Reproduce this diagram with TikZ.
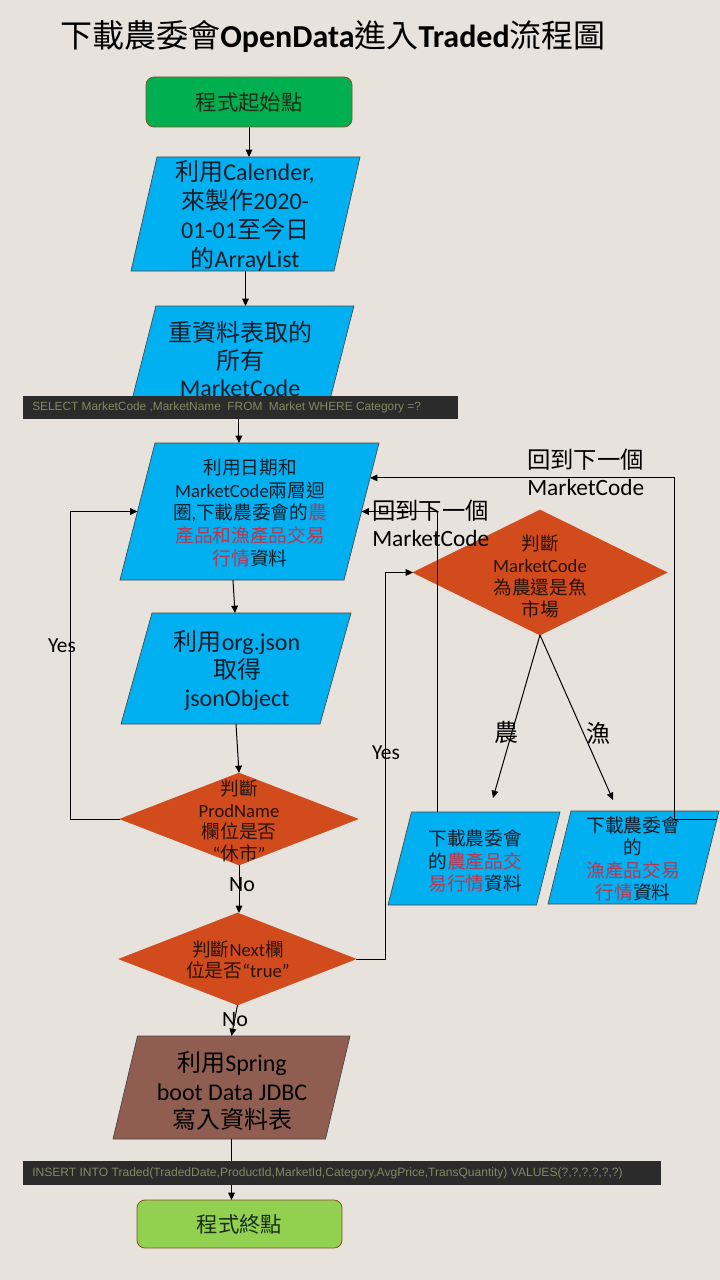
\documentclass[tikz,border=0pt]{standalone}
\usepackage{fontspec}
\setmainfont{Carlito}
\newfontfamily\zhf{Noto Sans CJK TC}
\newfontfamily\sqlf{Liberation Sans}
\usetikzlibrary{shapes.geometric,arrows.meta,calc}
\definecolor{bg}{RGB}{231,227,220}
\definecolor{gstart}{RGB}{0,176,80}
\definecolor{gend}{RGB}{146,208,80}
\definecolor{pblue}{RGB}{0,176,240}
\definecolor{dorange}{RGB}{209,75,29}
\definecolor{pbrown}{RGB}{143,94,80}
\definecolor{redtxt}{RGB}{185,55,80}
\definecolor{barc}{RGB}{43,43,43}
\definecolor{sqltxt}{RGB}{128,138,100}
\definecolor{edgec}{RGB}{70,70,70}
\definecolor{rbord}{RGB}{140,80,40}
\definecolor{stxt}{RGB}{25,45,25}
\definecolor{btxt}{RGB}{20,28,40}
\definecolor{dtxt}{RGB}{40,18,8}
\newcommand\zh[1]{{\zhf #1}}
\newcommand\rd[1]{\textcolor{redtxt}{#1}}
\tikzset{
  sz/.style 2 args={minimum width=#1*0.75pt, minimum height=#2*0.75pt},
  box/.style={rectangle, inner sep=0pt, outer sep=0pt},
  parafill/.style={draw=edgec, line width=0.5pt},
  dec/.style={diamond, inner sep=0pt, outer sep=0pt, fill=dorange, draw=dorange},
  term/.style={rectangle, rounded corners=6pt, draw=rbord, line width=0.6pt,
    inner sep=0pt, outer sep=0pt},
  sqlbar/.style={rectangle, fill=barc, inner sep=0pt, outer sep=0pt},
  txt/.style={align=center, inner sep=0pt},
  lbl/.style={inner sep=0pt, text=black},
  arr/.style={-{Triangle[length=5.5pt,width=5pt]}, line width=0.75pt, black},
}
% #1 name, #2 x, #3 y (centre), #4 width, #5 height, #6 slant offset, #7 fill
\newcommand\parallelo[7]{%
  \node[box, sz={#4}{#5}] (#1) at (#2,#3) {};
  \filldraw[parafill, fill=#7] (#1.south west) -- ([xshift=#6*0.75pt]#1.north west)
    -- (#1.north east) -- ([xshift=-#6*0.75pt]#1.south east) -- cycle;
  \coordinate (#1-l) at ($(#1.south west)!0.5!([xshift=#6*0.75pt]#1.north west)$);
  \coordinate (#1-r) at ($(#1.north east)!0.5!([xshift=-#6*0.75pt]#1.south east)$);
}
\begin{document}
\begin{tikzpicture}[x=0.75pt,y=-0.75pt]
\fill[bg] (0,0) rectangle (720,1280);
\useasboundingbox (0,0) rectangle (720,1280);

% title
\node[anchor=west, inner sep=0pt] (title) at (60,37)
  {\fontsize{24}{28}\selectfont\zh{下載農委會}\textbf{OpenData}\zh{進入}\textbf{Traded}\zh{流程圖}};

% shapes
\node[term, fill=gstart, sz={206}{50}] (start) at (249,102) {};
\parallelo{p1}{245.5}{214}{229}{114}{26}{pblue}
\parallelo{p2}{242.4}{355}{223}{98}{25}{pblue}
\parallelo{p3}{249.5}{511.5}{259}{137}{35}{pblue}
\parallelo{p4}{236}{668.5}{230}{111}{31}{pblue}
\node[dec, sz={238}{92}] (d1) at (239,819) {};
\node[dec, sz={237}{92}] (d2) at (237.5,959) {};
\node[dec, sz={254}{125}] (d3) at (540,572.5) {};
\parallelo{pL}{474}{858.5}{172}{93}{23.5}{pblue}
\parallelo{pR}{633.5}{857.5}{171}{93}{23}{pblue}
\parallelo{p5}{231.5}{1087.5}{237}{103}{24.5}{pbrown}
\node[term, fill=gend, sz={205}{48}] (stop) at (239.5,1224) {};

% texts in shapes
\node[txt, text=stxt, font=\fontsize{16}{19}\selectfont] (startt) at (249,102) {\zh{程式起始點}};
\node[txt, text=btxt, font=\fontsize{18}{21.75}\selectfont] (p1t) at (245,216)
  {\zh{利用}Calender,\\\zh{來製作}2020-\\01-01\zh{至今日}\\\zh{的}ArrayList};
\node[txt, text=btxt, font=\fontsize{18}{20.6}\selectfont] (p2t) at (240,359)
  {\zh{重資料表取的}\\\zh{所有}\\MarketCode};
\node[txt, text=btxt, font=\fontsize{14}{16.9}\selectfont] (p3t) at (250,513)
  {\zh{利用日期和}\\MarketCode\zh{兩層迴}\\\zh{圈},\zh{下載農委會的}\rd{\zh{農}}\\\rd{\zh{產品和漁產品交易}}\\\rd{\zh{行情}}\zh{資料}};
\node[txt, text=btxt, font=\fontsize{18}{21}\selectfont] (p4t) at (237,671)
  {\zh{利用}org.json\\\zh{取得}\\jsonObject};
\node[txt, text=dtxt, font=\fontsize{14}{16.2}\selectfont] (d1t) at (239,821)
  {\zh{判斷}\\ProdName\\\zh{欄位是否}\\“\zh{休市}”};
\node[txt, text=dtxt, font=\fontsize{14}{15.75}\selectfont] (d2t) at (238,960)
  {\zh{判斷}Next\zh{欄}\\\zh{位是否}“true”};
\node[txt, text=dtxt, font=\fontsize{14}{16.5}\selectfont] (d3t) at (540,576)
  {\zh{判斷}\\MarketCode\\\zh{為農還是魚}\\\zh{市場}};
\node[txt, text=btxt, font=\fontsize{14}{16.9}\selectfont] (pLt) at (475,861)
  {\zh{下載農委會}\\\zh{的}\rd{\zh{農產品交}}\\\rd{\zh{易行情}}\zh{資料}};
\node[txt, text=btxt, font=\fontsize{14}{16.9}\selectfont] (pRt) at (633,859)
  {\zh{下載農委會}\\\zh{的}\\\rd{\zh{漁產品交易}}\\\rd{\zh{行情}}\zh{資料}};
\node[txt, text=black, font=\fontsize{18}{21.4}\selectfont] (p5t) at (232,1091)
  {\zh{利用}Spring\\boot Data JDBC\\\zh{寫入資料表}};
\node[txt, text=stxt, font=\fontsize{16}{19}\selectfont] (stopt) at (239.5,1224) {\zh{程式終點}};

% connectors
\draw[arr] (start.south) -- (start.south |- p1.north);
\draw[arr] (p1.south) -- (p1.south |- p2.north);
\draw[arr] ([xshift=-2.6pt]p2.south) -- ([xshift=-2.6pt]p2.south |- p3.north);
\draw[arr] ([xshift=-12.4pt]p3.south) -- ([xshift=-0.75pt]p4.north);
\draw[arr] (p4.south) -- (d1.north);
\draw[arr] (d1.south) -- (d1.south |- d2.north);
\draw[arr] (d2.south) -- (p5.north);
\draw[arr] (p5.south) -- (p5.south |- stop.north);

\draw[arr] (d1.west) -- ++(-50,0) |- (p3-l);
\draw[arr] (d2.east) -- ++(29,0) |- (d3.west);

\coordinate (aL) at (493,798);
\coordinate (aR) at (613,800);
\draw[arr] (d3.south) -- (aL);
\draw[arr] (d3.south) -- (aR);

\draw[arr] (pL.north) ++(-37,0) |- (p3-r);
\coordinate (rs) at ($(pR.north east)!0.086!([xshift=-17.25pt]pR.south east)$);
\coordinate (p3r) at ($(p3.north east)!0.255!([xshift=-26.25pt]p3.south east)$);
\draw[arr] (rs) -- ++(-43,0) |- (p3r);

% sql bars
\node[sqlbar, sz={435}{23}] (sel) at (240.5,407.5) {};
\node[anchor=west, inner sep=0pt, text=sqltxt, font=\sqlf\fontsize{8.9}{10}\selectfont] (selt)
  at ([xshift=6.75pt]sel.west) {SELECT MarketCode ,MarketName\ \ FROM\ \ Market WHERE Category =?};
\node[sqlbar, sz={638}{24}] (ins) at (342,1173) {};
\node[anchor=west, inner sep=0pt, text=sqltxt, font=\sqlf\fontsize{9.05}{10}\selectfont] (inst)
  at ([xshift=6.75pt]ins.west) {INSERT INTO Traded(TradedDate,ProductId,MarketId,Category,AvgPrice,TransQuantity) VALUES(?,?,?,?,?,?)};

% labels
\node[lbl, font=\fontsize{16}{19}\selectfont] (yes1) at (62,646) {Yes};
\node[lbl, font=\fontsize{16}{19}\selectfont] (yes2) at (386,753) {Yes};
\node[lbl, font=\fontsize{16.5}{19}\selectfont] (no1) at (242,885) {No};
\node[lbl, font=\fontsize{16.5}{19}\selectfont] (no2) at (235,1020) {No};
\node[lbl, font=\fontsize{18}{20}\selectfont] (nong) at (506,732) {\zh{農}};
\node[lbl, font=\fontsize{18}{20}\selectfont] (yu) at (598,733) {\zh{漁}};
\node[lbl, anchor=west, align=left, font=\fontsize{17.5}{20.25}\selectfont] (back1) at (527,472)
  {\zh{回到下一個}\\MarketCode};
\node[lbl, anchor=west, align=left, font=\fontsize{17.5}{20.25}\selectfont] (back2) at (372,523)
  {\zh{回到下一個}\\MarketCode};
\end{tikzpicture}
\end{document}
